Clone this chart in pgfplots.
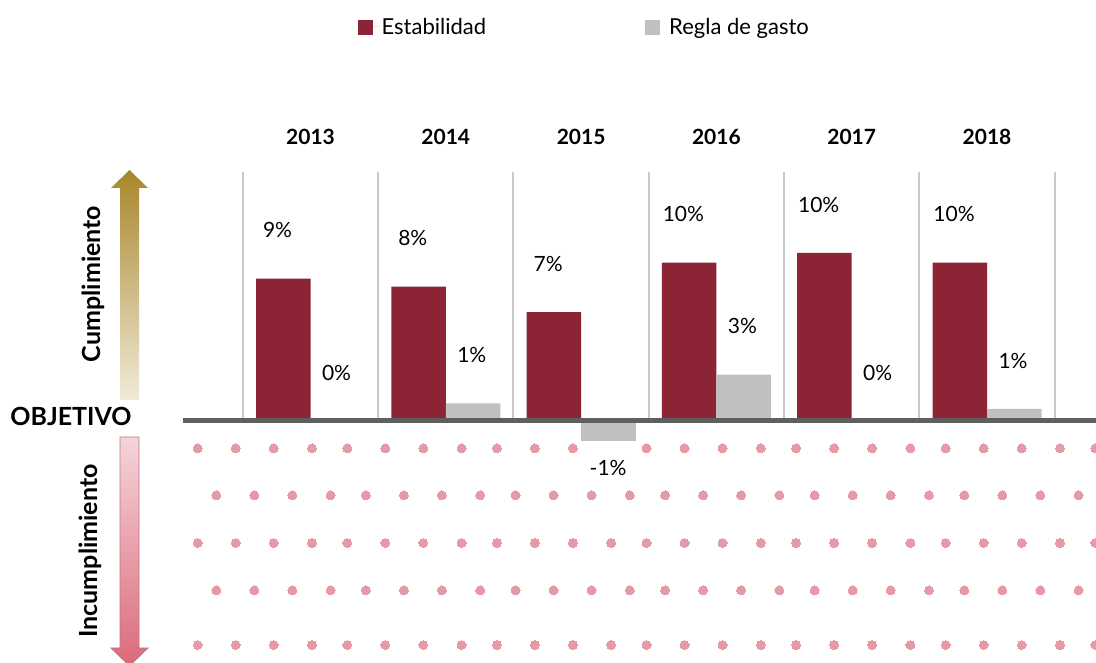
\documentclass[border=0pt]{standalone}
\usepackage{fontspec}
\setmainfont{Lato}
\usepackage{pgfplots}
\pgfplotsset{compat=1.18}
\definecolor{maroon}{RGB}{139,37,53}
\definecolor{gris}{RGB}{192,192,192}
\definecolor{sepc}{RGB}{200,200,200}
\definecolor{basec}{RGB}{95,95,95}
\definecolor{dotc}{RGB}{229,154,165}
\definecolor{goldtop}{RGB}{168,134,42}
\definecolor{goldbot}{RGB}{241,234,216}
\definecolor{pinktop}{RGB}{244,212,218}
\definecolor{pinkbot}{RGB}{220,106,122}
\definecolor{pinkedge}{RGB}{190,120,132}
\begin{document}
\begin{tikzpicture}[x=1pt,y=1pt]
\path[use as bounding box] (0,0) rectangle (1096,663);

% decorative dot grid (pixel coordinates)
\begin{axis}[at={(183pt,0pt)}, anchor=south west, scale only axis,
  width=913pt, height=491pt, xmin=183, xmax=1096, ymin=172, ymax=663,
  y dir=reverse, hide axis, clip=false]
\addplot[only marks, color=dotc, mark=*, mark size=4.5pt, mark options={draw=dotc, fill=dotc, line width=0pt}] coordinates {
(197.7,448.3) (235.7,448.3) (273.7,448.3) (312.0,448.3) (347.3,448.3) (385.3,448.3) (423.3,448.3) (461.6,448.3)
(496.9,448.3) (534.9,448.3) (572.9,448.3) (646.5,448.3) (684.5,448.3) (722.5,448.3) (760.8,448.3)
(796.1,448.3) (834.1,448.3) (872.1,448.3) (910.4,448.3) (945.7,448.3) (983.7,448.3) (1021.7,448.3) (1060.0,448.3) (1095.3,448.3)
(216.3,495.3) (254.3,495.3) (292.3,495.3) (330.6,495.3) (365.9,495.3) (403.9,495.3) (441.9,495.3) (480.2,495.3)
(515.5,495.3) (553.5,495.3) (591.5,495.3) (629.8,495.3) (665.1,495.3) (703.1,495.3) (741.1,495.3) (779.4,495.3)
(814.7,495.3) (852.7,495.3) (890.7,495.3) (929.0,495.3) (964.3,495.3) (1002.3,495.3) (1040.3,495.3) (1078.6,495.3)
(197.7,543) (235.7,543) (273.7,543) (312.0,543) (347.3,543) (385.3,543) (423.3,543) (461.6,543)
(496.9,543) (534.9,543) (572.9,543) (611.2,543) (646.5,543) (684.5,543) (722.5,543) (760.8,543)
(796.1,543) (834.1,543) (872.1,543) (910.4,543) (945.7,543) (983.7,543) (1021.7,543) (1060.0,543) (1095.3,543)
(216.3,590.3) (254.3,590.3) (292.3,590.3) (330.6,590.3) (365.9,590.3) (403.9,590.3) (441.9,590.3) (480.2,590.3)
(515.5,590.3) (553.5,590.3) (591.5,590.3) (629.8,590.3) (665.1,590.3) (703.1,590.3) (741.1,590.3) (779.4,590.3)
(814.7,590.3) (852.7,590.3) (890.7,590.3) (929.0,590.3) (964.3,590.3) (1002.3,590.3) (1040.3,590.3) (1078.6,590.3)
(197.7,645) (235.7,645) (273.7,645) (312.0,645) (347.3,645) (385.3,645) (423.3,645) (461.6,645)
(496.9,645) (534.9,645) (572.9,645) (611.2,645) (646.5,645) (684.5,645) (722.5,645) (760.8,645)
(796.1,645) (834.1,645) (872.1,645) (910.4,645) (945.7,645) (983.7,645) (1021.7,645) (1060.0,645) (1095.3,645)
};
\end{axis}

% main chart
\begin{axis}[at={(183pt,0pt)}, anchor=south west, scale only axis,
  width=913pt, height=491pt,
  xmin=-0.9424, xmax=5.8056, ymin=-15.125, ymax=15.5625,
  axis line style={draw=none}, major tick length=0pt, ytick=\empty,
  xtick={0,1,2,3,4,5}, xticklabels={2013,2014,2015,2016,2017,2018},
  xticklabel pos=upper,
  xticklabel style={font=\fontsize{21}{25}\selectfont\bfseries, anchor=center, yshift=35pt},
  clip=false,
  legend image code/.code={\fill[#1,draw=none] (0pt,-8pt) rectangle (15pt,7pt); \path (0pt,0pt) -- (22pt,0pt);},
  legend style={draw=none, fill=none, at={(0.4395,1.2953)}, anchor=center,
    font=\fontsize{22}{26}\selectfont, inner sep=0pt,
    /tikz/every even column/.append style={column sep=157pt}},
  legend columns=2,
  nodes near coords={\pgfplotspointmeta\%},
  every node near coord/.append style={font=\fontsize{21}{25}\selectfont, inner sep=0pt, text=black},
]
\foreach \xs in {-0.5,0.5,1.5,2.5,3.5,4.5,5.5}{
  \edef\tmp{\noexpand\draw[sepc, line width=2pt] (axis cs:\xs,0) -- (axis cs:\xs,15.5625);}
  \tmp
}
\addplot[ybar, bar width=54.5pt, bar shift=-27.25pt, fill=maroon, draw=none,
  point meta=explicit symbolic,
  every node near coord/.append style={yshift=40.5pt, xshift=-33pt}]
  table[meta=lab] {
x y lab
0 8.9 9
1 8.4 8
2 6.8 7
3 9.9 10
4 10.5 10
5 9.9 10
};
\addlegendentry{Estabilidad}
\addplot[ybar, bar width=54.5pt, bar shift=27.25pt, fill=gris, draw=none,
  point meta=explicit symbolic,
  every node near coord/.append style={yshift=40.5pt, xshift=26pt}]
  table[meta=lab] {
x y lab
0 0 0
1 1.1 1
3 2.9 3
4 0 0
5 0.75 1
};
\addlegendentry{Regla de gasto}
\addplot[ybar, bar width=54.5pt, bar shift=27.25pt, fill=gris, draw=none, forget plot,
  point meta=explicit symbolic,
  every node near coord/.append style={yshift=-34.5pt, xshift=27pt}]
  table[meta=lab] {
x y lab
2 -1.25 -1
};
\draw[basec, line width=5pt] (axis cs:-0.9424,0) -- (axis cs:5.8056,0);
\end{axis}

% arrows and side labels
\shade[top color=goldtop, bottom color=goldbot]
  (120,263) -- (120,475) -- (111,475) -- (129.5,493) -- (148,475) -- (139,475) -- (139,263) -- cycle;
\shadedraw[top color=pinktop, bottom color=pinkbot, draw=pinkedge, line width=0.8pt]
  (120,226) -- (139,226) -- (139,15) -- (148,15) -- (129.5,-3) -- (111,15) -- (120,15) -- cycle;
\node[rotate=90, font=\fontsize{25}{29}\selectfont\bfseries] at (93,379) {Cumplimiento};
\node[rotate=90, font=\fontsize{25}{29}\selectfont\bfseries] at (90,112) {Incumplimiento};
\node[font=\fontsize{25}{29}\selectfont\bfseries] at (71,247) {OBJETIVO};
\end{tikzpicture}
\end{document}
